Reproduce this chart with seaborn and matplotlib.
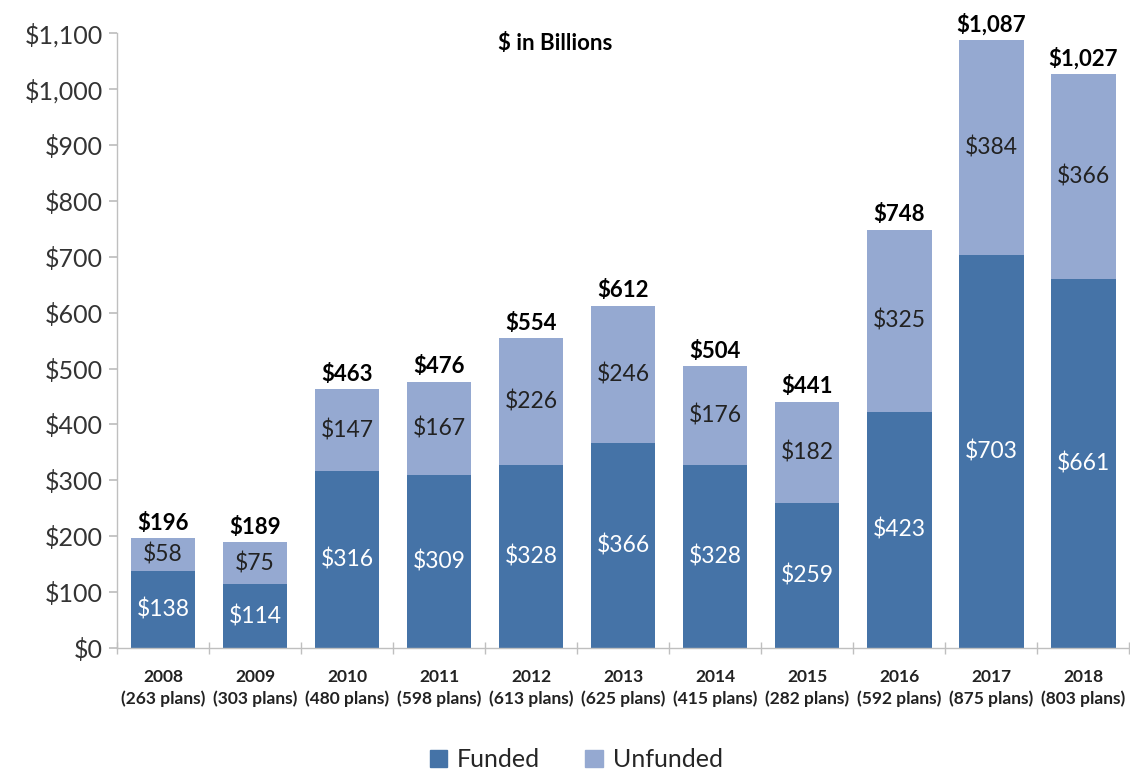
import numpy as np
import matplotlib.pyplot as plt
import pandas as pd
import seaborn as sns
from matplotlib.patches import Patch
from matplotlib.ticker import FixedLocator

years = ["2008", "2009", "2010", "2011", "2012", "2013", "2014", "2015", "2016", "2017", "2018"]
plans = [263, 303, 480, 598, 613, 625, 415, 282, 592, 875, 803]
funded = [138, 114, 316, 309, 328, 366, 328, 259, 423, 703, 661]
unfunded = [58, 75, 147, 167, 226, 246, 176, 182, 325, 384, 366]
totals = [196, 189, 463, 476, 554, 612, 504, 441, 748, 1087, 1027]

c_funded = "#4573a7"
c_unfunded = "#95a9d1"

sns.set_theme(style="white")
plt.rcParams['font.family'] = ['Lato', 'DejaVu Sans']

df = pd.DataFrame({"year": years, "funded": funded, "unfunded": unfunded, "total": totals})
df["label"] = [f"{y}\n({p} plans)" for y, p in zip(years, plans)]

fig = plt.figure(figsize=(11.3, 7.72), dpi=100)
ax = fig.add_axes([0.1035, 0.1606, 0.896, 0.7964])

# stacked: total drawn first in unfunded colour, funded on top
sns.barplot(data=df, x="label", y="total", color=c_unfunded, width=0.7, saturation=1, linewidth=0, ax=ax)
sns.barplot(data=df, x="label", y="funded", color=c_funded, width=0.7, saturation=1, linewidth=0, ax=ax)

for i in range(len(years)):
    ax.text(i, funded[i] / 2, f"${funded[i]}", ha="center", va="center", color="white", fontsize=16.5)
    ax.text(i, funded[i] + unfunded[i] / 2, f"${unfunded[i]}", ha="center", va="center", color="#222222", fontsize=16.5)
    ax.text(i, totals[i] + 8, f"${totals[i]:,}", ha="center", va="bottom", color="black", fontsize=16, fontweight="bold")

ax.set_ylim(0, 1100)
ax.set_xlim(-0.5, len(years) - 0.5)
ax.set_yticks(np.arange(0, 1101, 100))
ax.set_yticklabels([f"${v:,}" for v in range(0, 1101, 100)], fontsize=18, color="#333333")
ax.set_xticklabels(df["label"], fontsize=12.5, fontweight="bold", color="#222222", linespacing=1.4)
ax.set_xlabel("")
ax.set_ylabel("")

ax.xaxis.set_minor_locator(FixedLocator(np.arange(-0.5, len(years), 1)))
ax.tick_params(axis="x", which="major", length=0, pad=15)
ax.tick_params(axis="x", which="minor", length=8, color="#bfbfbf", direction="inout", bottom=True)
ax.tick_params(axis="y", length=6, color="#bfbfbf", direction="out", left=True, pad=4)

for s in ["top", "right"]:
    ax.spines[s].set_visible(False)
for s in ["left", "bottom"]:
    ax.spines[s].set_color("#bfbfbf")
    ax.spines[s].set_linewidth(1)

ax.text(0.433, 1.0, r"\$ in Billions", transform=ax.transAxes, ha="center", va="top",
        fontsize=16, fontweight="bold", color="black")

handles = [Patch(color=c_funded, label="Funded"), Patch(color=c_unfunded, label="Unfunded")]
fig.legend(handles=handles, loc="lower center", bbox_to_anchor=(0.51, -0.028), ncol=2, frameon=False,
           fontsize=18, handlelength=0.7, handleheight=0.7, handletextpad=0.4, columnspacing=1.8)

fig.savefig("out.png", dpi=100)
